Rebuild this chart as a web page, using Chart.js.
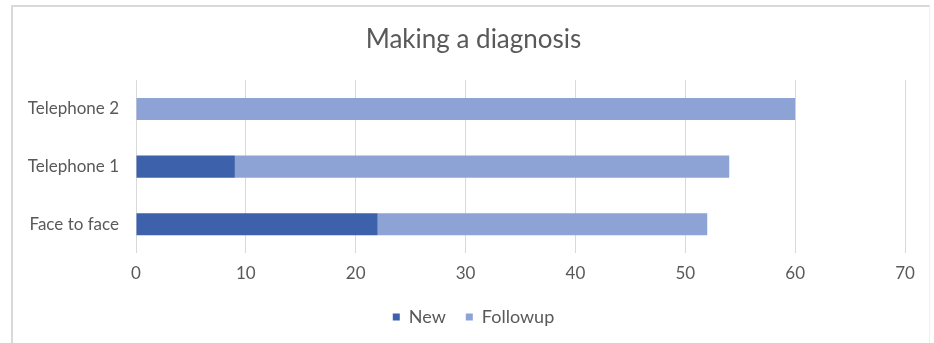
<!DOCTYPE html>
<html>
<head>
<meta charset="utf-8">
<script src="https://cdn.jsdelivr.net/npm/chart.js@4/dist/chart.umd.min.js"></script>
<style>
  html, body { margin: 0; padding: 0; background: #ffffff; }
  #wrap { position: relative; width: 934px; height: 343px; overflow: hidden; }
  #frame {
    position: absolute; left: 11px; top: 5px; right: 4px; bottom: -5px;
    border-top: 2px solid #d9d9d9; border-left: 2px solid #d9d9d9; border-right: 1px solid #f0f0f0;
    pointer-events: none;
  }
  canvas { position: absolute; left: 0; top: 0; }
</style>
</head>
<body>
<div id="wrap">
  <canvas id="chart" width="934" height="343"></canvas>
  <div id="frame"></div>
</div>
<script>
// Consultation types and counts per type
const categories = ['Telephone 2', 'Telephone 1', 'Face to face'];
const newValues = [0, 9, 22];
const followupValues = [60, 45, 30];
const xTicks = [0, 10, 20, 30, 40, 50, 60, 70];

const textColor = '#595959';
const fontFamily = 'Lato, "Open Sans", "Liberation Sans", sans-serif';

// Category labels are wider than the narrow y-axis box; let them draw unclipped.
const unclippedCategoryLabels = {
  id: 'unclippedCategoryLabels',
  beforeDraw(chart) {
    chart.scales.y._computeLabelArea = () => undefined;
  }
};

new Chart(document.getElementById('chart'), {
  type: 'bar',
  data: {
    labels: categories,
    datasets: [
      { label: 'New', data: newValues, backgroundColor: '#3d61ab', borderWidth: 0 },
      { label: 'Followup', data: followupValues, backgroundColor: '#8da3d5', borderWidth: 0 }
    ]
  },
  options: {
    indexAxis: 'y',
    responsive: false,
    animation: false,
    datasets: { bar: { categoryPercentage: 0.6, barPercentage: 0.64 } },
    layout: { padding: { left: 42, right: 29, top: 24, bottom: 7 } },
    scales: {
      x: {
        stacked: true,
        min: xTicks[0],
        max: xTicks[xTicks.length - 1],
        afterBuildTicks: (axis) => { axis.ticks = xTicks.map(v => ({ value: v })); },
        afterFit: (axis) => { axis.height = 35; },
        grid: { color: '#d9d9d9', lineWidth: 1, drawTicks: false },
        border: { display: false },
        ticks: { color: textColor, padding: 10, font: { family: fontFamily, size: 17 } }
      },
      y: {
        stacked: true,
        grid: { display: false, drawTicks: false },
        border: { display: false },
        afterFit: (axis) => { axis.width = 94; },
        ticks: { color: textColor, padding: 17, font: { family: fontFamily, size: 17 } }
      }
    },
    plugins: {
      title: {
        display: true,
        text: 'Making a diagnosis',
        color: textColor,
        font: { family: fontFamily, size: 26, weight: 'normal' },
        padding: { top: 0, bottom: 25 }
      },
      legend: {
        position: 'bottom',
        maxHeight: 50,
        labels: {
          color: textColor,
          boxWidth: 7,
          boxHeight: 7,
          padding: 20,
          font: { family: fontFamily, size: 18 }
        }
      },
      tooltip: { enabled: false }
    }
  },
  plugins: [unclippedCategoryLabels]
});
</script>
</body>
</html>
